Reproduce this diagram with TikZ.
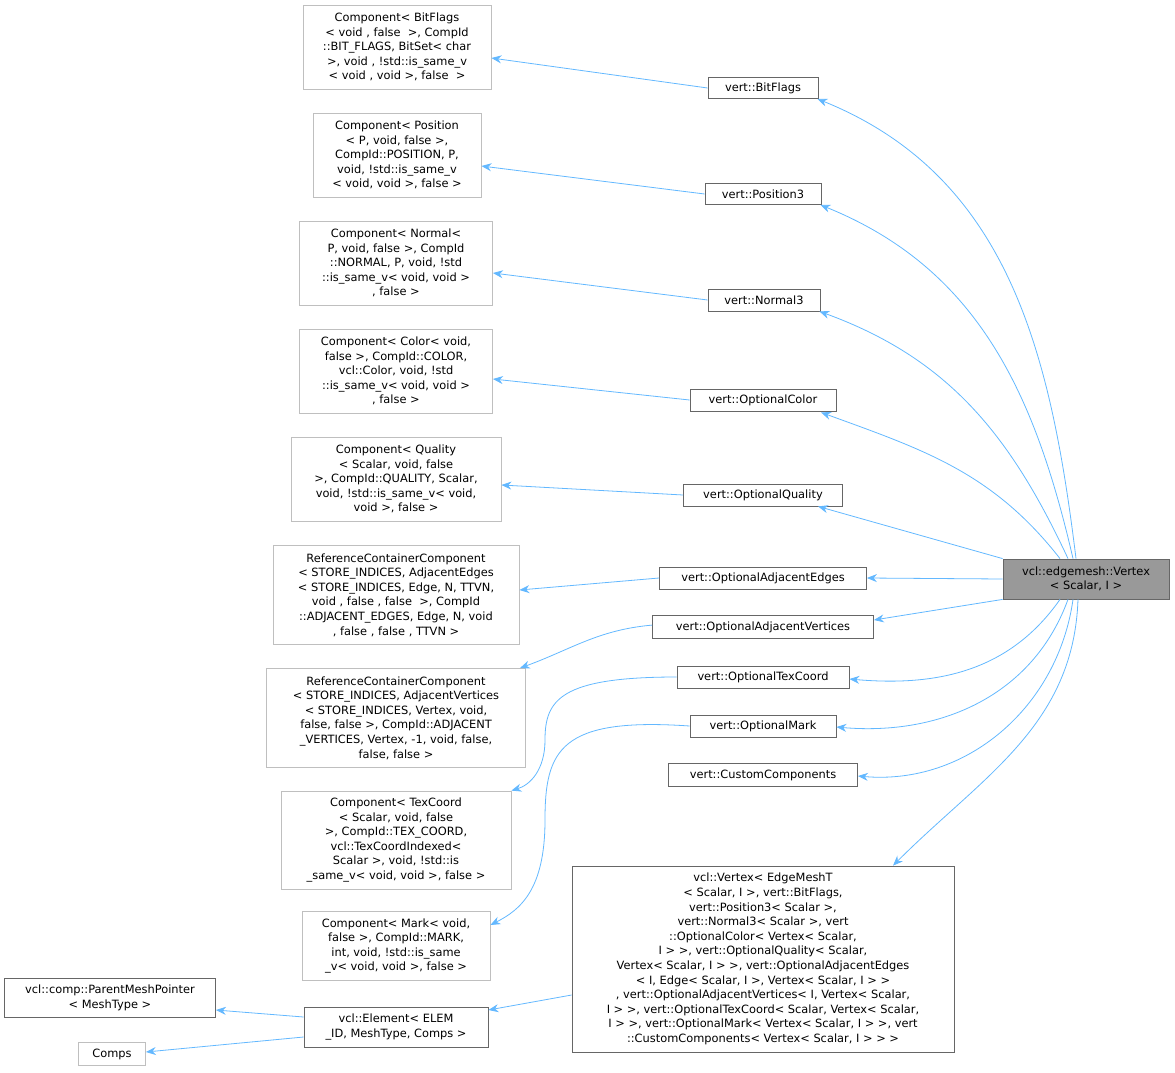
\documentclass[tikz,border=0pt]{standalone}
\usepackage{fontspec}
\setmainfont{DejaVu Sans}
\usetikzlibrary{arrows.meta,calc}
\definecolor{edgec}{HTML}{63B8FF}
\tikzset{
 x=1pt,y=-1pt,
 base/.style={draw, align=center, inner sep=2pt, font=\fontsize{11.4}{14.6}\selectfont, anchor=center, line width=0.8pt},
 ext/.style={base, draw=black!25},
 cls/.style={base, draw=black!60},
 cur/.style={base, draw=black!60, fill=black!40},
 edge/.style={draw=edgec, line width=0.8pt, -{Stealth[length=10pt,width=8pt,fill=edgec]}},
}
\begin{document}
\begin{tikzpicture}
\useasboundingbox (0,0) rectangle (1175,1073);
\node[ext,minimum width=188pt,minimum height=84pt] (cbit) at (397,47) {Component< BitFlags\\< void , false \ >, CompId\\::BIT\_FLAGS, BitSet< char\\ >, void , !std::is\_same\_v\\< void , void >, false \ >};
\node[cls,minimum width=110pt,minimum height=21pt] (bit) at (763,88) {vert::BitFlags};
\node[ext,minimum width=168pt,minimum height=84pt] (cpos) at (397,155) {Component< Position\\< P, void, false >,\\CompId::POSITION, P,\\void, !std::is\_same\_v\\< void, void >, false >};
\node[cls,minimum width=116pt,minimum height=21pt] (pos) at (763,194) {vert::Position3};
\node[ext,minimum width=193pt,minimum height=84pt] (cnor) at (396,263) {Component< Normal<\\P, void, false >, CompId\\::NORMAL, P, void, !std\\::is\_same\_v< void, void >\\, false >};
\node[cls,minimum width=112pt,minimum height=22pt] (nor) at (764,300) {vert::Normal3};
\node[ext,minimum width=193pt,minimum height=84pt] (ccol) at (396,371) {Component< Color< void,\\false >, CompId::COLOR,\\vcl::Color, void, !std\\::is\_same\_v< void, void >\\, false >};
\node[cls,minimum width=146pt,minimum height=22pt] (col) at (763,400) {vert::OptionalColor};
\node[ext,minimum width=210pt,minimum height=84pt] (cqua) at (396,479) {Component< Quality\\< Scalar, void, false\\ >, CompId::QUALITY, Scalar,\\void, !std::is\_same\_v< void,\\void >, false >};
\node[cls,minimum width=159pt,minimum height=22pt] (qua) at (763,495) {vert::OptionalQuality};
\node[ext,minimum width=246pt,minimum height=99pt] (cae) at (396,595) {ReferenceContainerComponent\\< STORE\_INDICES, AdjacentEdges\\< STORE\_INDICES, Edge, N, TTVN,\\ void , false , false \ >, CompId\\::ADJACENT\_EDGES, Edge, N, void\\, false , false , TTVN >};
\node[cls,minimum width=207pt,minimum height=22pt] (ae) at (763,578) {vert::OptionalAdjacentEdges};
\node[ext,minimum width=259pt,minimum height=99pt] (cav) at (396,718) {ReferenceContainerComponent\\< STORE\_INDICES, AdjacentVertices\\< STORE\_INDICES, Vertex, void,\\false, false >, CompId::ADJACENT\\\_VERTICES, Vertex, -1, void, false,\\false, false >};
\node[cls,minimum width=221pt,minimum height=23pt] (av) at (763,627) {vert::OptionalAdjacentVertices};
\node[ext,minimum width=230pt,minimum height=98pt] (ctex) at (396,840) {Component< TexCoord\\< Scalar, void, false\\ >, CompId::TEX\_COORD,\\vcl::TexCoordIndexed<\\Scalar >, void, !std::is\\\_same\_v< void, void >, false >};
\node[cls,minimum width=172pt,minimum height=22pt] (tex) at (763,677) {vert::OptionalTexCoord};
\node[ext,minimum width=188pt,minimum height=69pt] (cmark) at (396,946) {Component< Mark< void,\\false >, CompId::MARK,\\int, void, !std::is\_same\\\_v< void, void >, false >};
\node[cls,minimum width=146pt,minimum height=22pt] (mark) at (763,726) {vert::OptionalMark};
\node[cls,minimum width=189pt,minimum height=23pt] (cust) at (763,775) {vert::CustomComponents};
\node[cls,minimum width=382pt,minimum height=186pt] (big) at (763,959) {vcl::Vertex< EdgeMeshT\\< Scalar, I >, vert::BitFlags,\\ vert::Position3< Scalar >,\\ vert::Normal3< Scalar >, vert\\::OptionalColor< Vertex< Scalar,\\ I > >, vert::OptionalQuality< Scalar,\\ Vertex< Scalar, I > >, vert::OptionalAdjacentEdges\\< I, Edge< Scalar, I >, Vertex< Scalar, I > >\\, vert::OptionalAdjacentVertices< I, Vertex< Scalar,\\ I > >, vert::OptionalTexCoord< Scalar, Vertex< Scalar,\\ I > >, vert::OptionalMark< Vertex< Scalar, I > >, vert\\::CustomComponents< Vertex< Scalar, I > > >};
\node[cls,minimum width=184pt,minimum height=40pt] (elem) at (396,1027) {vcl::Element< ELEM\\\_ID, MeshType, Comps >};
\node[cls,minimum width=211pt,minimum height=39pt] (pmp) at (110,998) {vcl::comp::ParentMeshPointer\\< MeshType >};
\node[ext,minimum width=67pt,minimum height=23pt] (comps) at (112,1054) {Comps};
\node[cur,minimum width=166pt,minimum height=40pt] (main) at (1086,579) {vcl::edgemesh::Vertex\\< Scalar, I >};

% left-side edges
\draw[edge] (bit.west) -- ($(cbit.east)+(0,11)$);
\draw[edge] (pos.west) -- ($(cpos.east)+(0,11)$);
\draw[edge] (nor.west) -- ($(cnor.east)+(0,10)$);
\draw[edge] (col.west) -- ($(ccol.east)+(0,8)$);
\draw[edge] (qua.west) -- ($(cqua.east)+(0,6)$);
\draw[edge] (ae.west) -- ($(cae.east)+(0,-5)$);
\draw[edge] ($(av.north west)+(0,10)$) to[out=185,in=20] ($(cav.north east)+(-6,0)$);
\draw[edge] (tex.west) .. controls (560,677) and (545,700) .. (545,740) .. controls (545,770) and (530,785) .. ($(ctex.north east)+(0,0)$);
\draw[edge] (mark.west) .. controls (560,717) and (545,750) .. (545,820) .. controls (545,890) and (520,910) .. ($(cmark.east)+(0,-21)$);
\draw[edge] ($(big.west)+(0,36)$) -- ($(elem.east)+(0,-17)$);
\draw[edge] ($(elem.west)+(0,-10)$) -- ($(pmp.east)+(0,12)$);
\draw[edge] ($(elem.west)+(0,10)$) -- ($(comps.east)+(0,-2)$);

% main edges
\draw[edge] ($(main.north)+(-10,0)$) to[out=97,in=-22] ($(bit.south east)+(-1,0)$);
\draw[edge] ($(main.north)+(-13,0)$) to[out=103,in=-22] ($(pos.south east)+(-1,0)$);
\draw[edge] ($(main.north)+(-18,0)$) to[out=115,in=-20] ($(nor.south east)+(-1,0)$);
\draw[edge] ($(main.north)+(-26,0)$) to[out=128,in=-20] ($(col.south)+(58,1)$);
\draw[edge] (main.north west) -- ($(qua.south)+(55,0)$);
\draw[edge] (main.west) -- (ae.east);
\draw[edge] (main.south west) -- ($(av.east)+(0,-7)$);
\draw[edge] ($(main.south)+(-26,0)$) to[out=235,in=-5] ($(tex.east)+(0,2)$);
\draw[edge] ($(main.south)+(-18,0)$) to[out=250,in=-5] ($(mark.east)+(0,1)$);
\draw[edge] ($(main.south)+(-13,0)$) to[out=262,in=-5] ($(cust.east)+(0,1)$);
\draw[edge] ($(main.south)+(-8,0)$) to[out=268,in=45] ($(big.north)+(130,0)$);
\end{tikzpicture}
\end{document}
